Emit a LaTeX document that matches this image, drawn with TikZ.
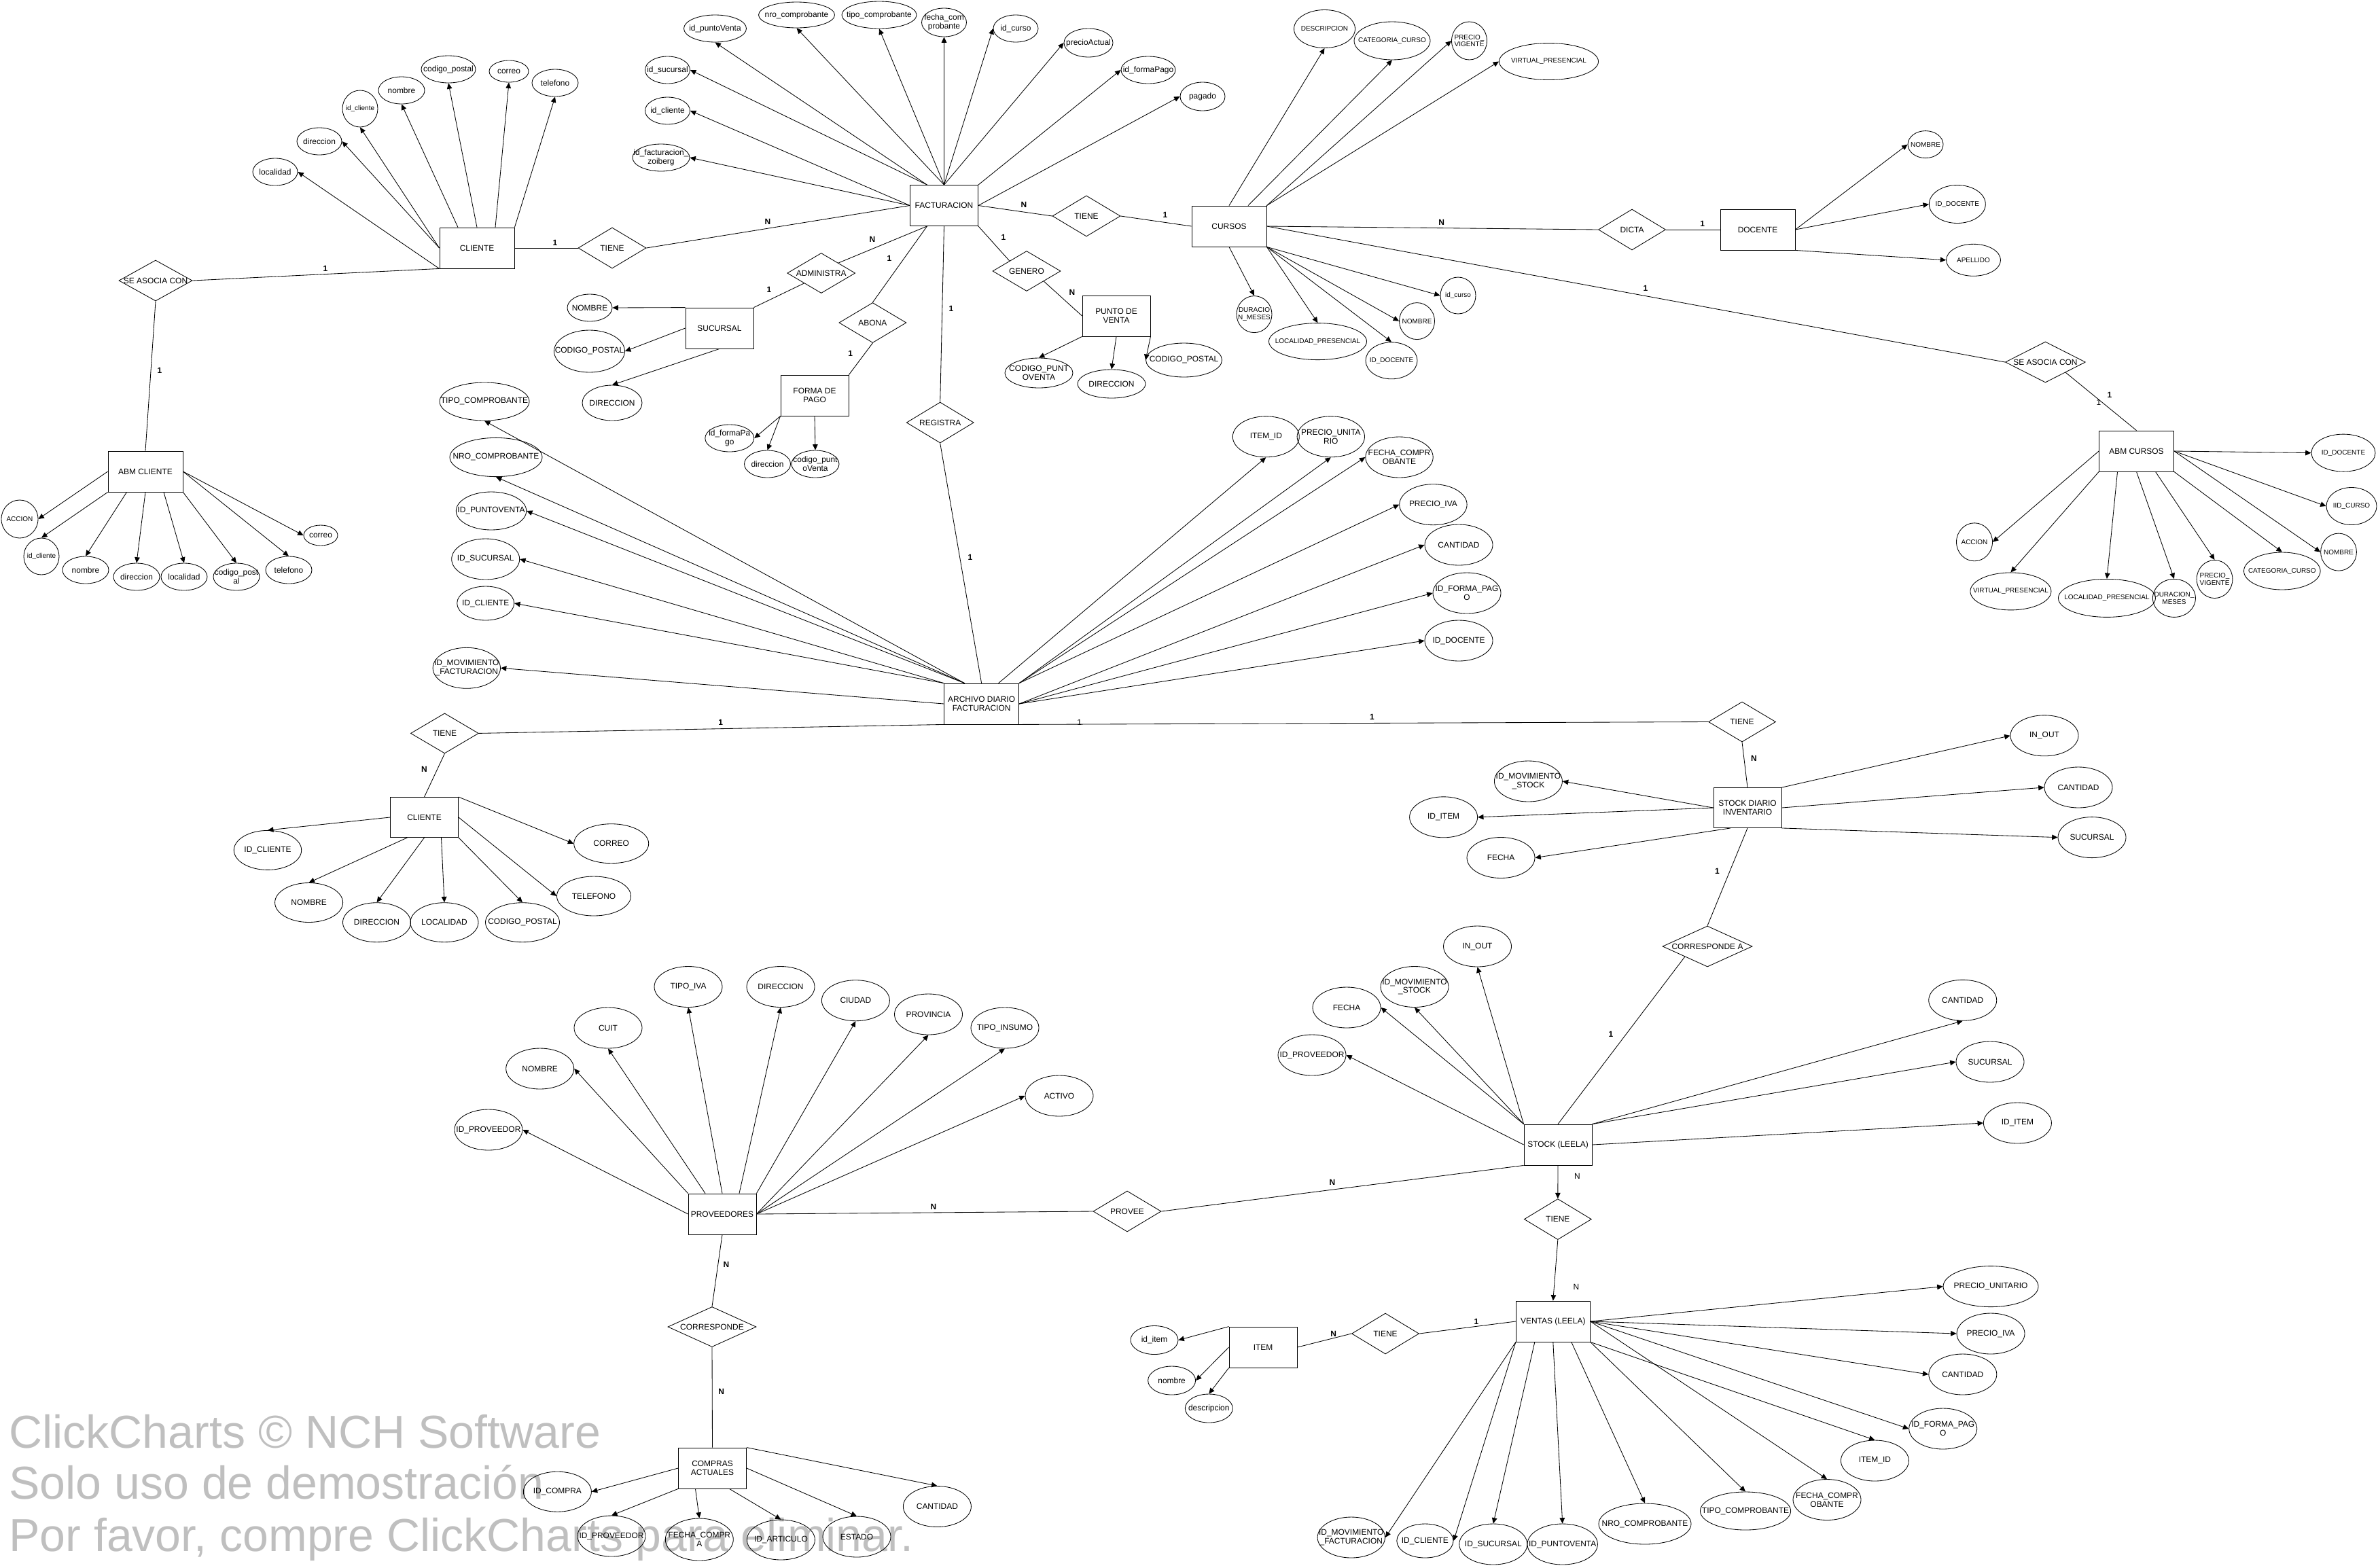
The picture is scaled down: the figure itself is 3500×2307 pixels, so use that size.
\documentclass[tikz,border=0pt]{standalone}
\usepackage{fontspec}
\setmainfont{Liberation Sans}
\usetikzlibrary{shapes.geometric,arrows.meta,calc}
\newcommand\fnorm{\fontsize{8.5}{9.2}\selectfont}
\newcommand\fsml{\fontsize{7.1}{7.6}\selectfont}
\newcommand\fcard{\fontsize{8.5}{9.2}\selectfont\bfseries}
\newcommand\fcardr{\fontsize{8.5}{9.2}\selectfont}
\newcommand\fwm{\fontsize{48.4}{54}\selectfont}
\begin{document}
\begin{tikzpicture}[x=0.25mm,y=-0.25mm,line width=0.6pt,
 lbl/.style={font=\fnorm,align=center,inner sep=0pt},
 lbls/.style={font=\fsml,align=center,inner sep=0pt},
 ent/.style 2 args={draw,rectangle,minimum width=#1*0.25mm,minimum height=#2*0.25mm,inner sep=0.5pt,align=center,font=\fnorm},
 att/.style n args={3}{draw,ellipse,inner sep=0pt,minimum width=#1*0.5mm,minimum height=#2*0.5mm,label={[lbl]center:#3}},
 atts/.style n args={3}{draw,ellipse,inner sep=0pt,minimum width=#1*0.5mm,minimum height=#2*0.5mm,label={[lbls]center:#3}},
 rel/.style n args={3}{draw,diamond,inner sep=0pt,minimum width=#1*0.25mm,minimum height=#2*0.25mm,label={[lbl]center:#3}},
 arr/.style={-{Triangle[length=2.1mm,width=1.9mm]}},
 card/.style={font=\fcard,inner sep=0pt},
 cardr/.style={font=\fcardr,inner sep=0pt},
 wm/.style={font=\fwm,text=black!25,anchor=base west,inner sep=0pt}]
\useasboundingbox (0,0) rectangle (3500,2307);
% watermark
\node[wm] (wm1) at (13,2131) {ClickCharts © NCH Software};
\node[wm] (wm2) at (13,2206) {Solo uso de demostración};
\node[wm] (wm3) at (13,2283) {Por favor, compre ClickCharts para eliminar.};

% ---------- CLIENTE (top) ----------
\node[ent={110}{60}] (cli1) at (702,365) {CLIENTE};
\node[att={33}{20}{localidad}] (aloc1) at (405,253) {};
\node[att={33}{20}{direccion}] (adir1) at (470,208) {};
\node[atts={26}{27}{id\_cliente}] (aidc1) at (530,160) {};
\node[att={34}{20}{nombre}] (anom1) at (591,133) {};
\node[att={40}{20}{codigo\_postal}] (acp1) at (660,102) {};
\node[att={29}{16}{correo}] (acor1) at (749,105) {};
\node[att={34}{20}{telefono}] (atel1) at (817,122) {};
\node[rel={100}{60}{TIENE}] (rtiene1) at (901,365) {};
\node[rel={108}{60}{SE ASOCIA CON}] (rasoc1) at (229,413) {};
\node[ent={110}{60}] (abmcli) at (214,694) {ABM CLIENTE};
\node[atts={27}{28}{ACCION}] (acc1) at (29,764) {};
\node[atts={26}{27}{id\_cliente}] (idc2) at (61,819) {};
\node[att={34}{20}{nombre}] (nom2) at (126,839) {};
\node[att={34}{20}{direccion}] (dir2) at (201,849) {};
\node[att={34}{20}{localidad}] (loc2) at (271,849) {};
\node[att={34}{20}{codigo\_post\\al}] (cp2) at (348,849) {};
\node[att={34}{20}{telefono}] (tel2) at (425,839) {};
\node[att={25}{15}{correo}] (cor2) at (472,788) {};

% ---------- FACTURACION ----------
\node[ent={100}{60}] (fac) at (1389.5,302.5) {FACTURACION};
\node[att={46}{20}{id\_puntoVenta}] (fpv) at (1052.5,42) {};
\node[att={56}{19}{nro\_comprobante}] (fnro) at (1172.5,22) {};
\node[att={55}{20}{tipo\_comprobante}] (ftipo) at (1294,22) {};
\node[att={33}{21}{fecha\_com\\probante}] (ffec) at (1389.5,33) {};
\node[att={33}{20}{id\_curso}] (fcur) at (1495,42) {};
\node[att={36}{21}{precioActual}] (fpre) at (1602,63) {};
\node[att={40}{20}{id\_formaPago}] (ffp) at (1690,103) {};
\node[att={33}{21}{pagado}] (fpag) at (1770,142) {};
\node[att={33}{20}{id\_sucursal}] (fsuc) at (982.5,103) {};
\node[att={33}{20}{id\_cliente}] (fcli) at (982.5,163) {};
\node[att={42}{20}{id\_facturacion\_\\zoiberg}] (fzoi) at (973,232) {};
\node[rel={100}{59}{ADMINISTRA}] (radm) at (1208.7,402) {};
\node[ent={100}{60}] (suc) at (1059,483) {SUCURSAL};
\node[att={33}{20}{NOMBRE}] (snom) at (868,453) {};
\node[att={52}{31}{CODIGO\_POSTAL}] (scp) at (867.5,517) {};
\node[att={44}{26}{DIRECCION}] (sdir) at (901,593) {};
\node[rel={99}{59}{ABONA}] (rabona) at (1284.4,475) {};
\node[ent={100}{60}] (fpago) at (1199,582) {FORMA DE\\PAGO};
\node[att={36}{20}{id\_formaPa\\go}] (fpid) at (1073.8,645) {};
\node[att={34}{20}{direccion}] (fpdir) at (1129.5,683) {};
\node[att={35}{20}{codigo\_punt\\oVenta}] (fpcpv) at (1200,683) {};
\node[rel={99}{60}{REGISTRA}] (rreg) at (1383.7,622) {};
\node[rel={100}{59}{GENERO}] (rgen) at (1511,399) {};
\node[ent={100}{60}] (pv) at (1643,465) {PUNTO DE\\VENTA};
\node[att={50}{22}{CODIGO\_PUNT\\OVENTA}] (pvcpv) at (1529,549) {};
\node[att={50}{21}{DIRECCION}] (pvdir) at (1636,565) {};
\node[att={56}{25}{CODIGO\_POSTAL}] (pvcp) at (1742.5,530) {};
\node[rel={100}{60}{TIENE}] (rtiene2) at (1599,318) {};

% ---------- CURSOS ----------
\node[ent={110}{60}] (cur) at (1809,333) {CURSOS};
\node[atts={45}{28}{DESCRIPCION}] (cdesc) at (1949.5,42.5) {};
\node[atts={56}{28}{CATEGORIA\_CURSO}] (ccat) at (2049,60) {};
\node[atts={26}{28}{PRECIO\_\\VIGENTE}] (cpv) at (2162.5,60) {};
\node[atts={73}{27}{VIRTUAL\_PRESENCIAL}] (cvp) at (2279.5,90.5) {};
\node[atts={26}{27}{DURACIO\\N\_MESES}] (cdur) at (1846,462.6) {};
\node[atts={72}{27}{LOCALIDAD\_PRESENCIAL}] (cloc) at (1939.5,502.6) {};
\node[atts={38}{27}{ID\_DOCENTE}] (ciddoc) at (2048,530.8) {};
\node[atts={26}{27}{NOMBRE}] (cnom) at (2085.5,472.6) {};
\node[atts={26}{27}{id\_curso}] (cidc) at (2146,435) {};
\node[rel={99}{60}{DICTA}] (rdicta) at (2402,338) {};
\node[ent={110}{60}] (doc) at (2587,338) {DOCENTE};
\node[atts={26}{20}{NOMBRE}] (dnom) at (2834,212.6) {};
\node[atts={41.5}{28}{ID\_DOCENTE}] (did) at (2880.8,300.5) {};
\node[atts={40}{23.5}{APELLIDO}] (dape) at (2904.5,382.8) {};
\node[rel={118}{60}{SE ASOCIA CON}] (rasoc2) at (3010.4,533) {};
\node[ent={110}{60}] (abmcur) at (3144.5,664) {ABM CURSOS};
\node[atts={47}{27.5}{ID\_DOCENTE}] (aciddoc) at (3449,666.6) {};
\node[atts={37}{27.5}{IID\_CURSO}] (acidcur) at (3461,745) {};
\node[atts={26.5}{28}{ACCION}] (acacc) at (2906,797.8) {};
\node[atts={59.5}{27.5}{VIRTUAL\_PRESENCIAL}] (acvp) at (2959.4,870.4) {};
\node[atts={71.5}{28}{LOCALIDAD\_PRESENCIAL}] (acloc) at (3100.9,880.4) {};
\node[atts={31.5}{28}{DURACION\_\\MESES}] (acdur) at (3199.9,880.4) {};
\node[atts={26.4}{28}{PRECIO\_\\VIGENTE}] (acpv) at (3259.5,852.5) {};
\node[atts={56.3}{27.5}{CATEGORIA\_CURSO}] (accat) at (3358.8,840.5) {};
\node[atts={26.4}{27.5}{NOMBRE}] (acnom) at (3442,812.6) {};

% ---------- ARCHIVO DIARIO ----------
\node[ent={110}{60}] (arch) at (1444.6,1036) {ARCHIVO DIARIO\\FACTURACION};
\node[att={66}{28}{TIPO\_COMPROBANTE}] (atipo) at (713,591) {};
\node[att={68}{28.6}{NRO\_COMPROBANTE}] (anro) at (730,673) {};
\node[att={51.7}{28}{ID\_PUNTOVENTA}] (apv) at (723,752) {};
\node[att={50}{30}{ID\_SUCURSAL}] (asuc) at (714.7,823) {};
\node[att={42}{25}{ID\_CLIENTE}] (acli) at (714.7,888) {};
\node[att={49.7}{30}{ID\_MOVIMIENTO\\\_FACTURACION}] (amov) at (686.8,983.3) {};
\node[att={49}{30}{ITEM\_ID}] (aitem) at (1863.3,642.8) {};
\node[att={49.7}{30}{PRECIO\_UNITA\\RIO}] (apu) at (1958.8,642.8) {};
\node[att={49.7}{30}{FECHA\_COMPR\\OBANTE}] (afec) at (2059.5,673) {};
\node[att={49.7}{30}{PRECIO\_IVA}] (aiva) at (2109.4,742.7) {};
\node[att={50}{30}{CANTIDAD}] (acant) at (2147,802) {};
\node[att={50}{30}{ID\_FORMA\_PAG\\O}] (afp) at (2159,873) {};
\node[att={50}{30}{ID\_DOCENTE}] (adoc) at (2147,943) {};
\node[rel={100}{59}{TIENE}] (rtiene3) at (654.4,1079.4) {};
\node[ent={100}{59}] (cli2) at (624.5,1203) {CLIENTE};
\node[att={49.7}{29}{ID\_CLIENTE}] (c2id) at (394,1251.4) {};
\node[att={50}{29}{NOMBRE}] (c2nom) at (454.6,1328.5) {};
\node[att={50}{29}{DIRECCION}] (c2dir) at (554.5,1357.7) {};
\node[att={50}{29}{LOCALIDAD}] (c2loc) at (654,1357.7) {};
\node[att={54.5}{29}{CODIGO\_POSTAL}] (c2cp) at (769,1357.7) {};
\node[att={54.5}{29}{TELEFONO}] (c2tel) at (874,1319) {};
\node[att={55}{29}{CORREO}] (c2cor) at (899.7,1241.7) {};
\node[rel={99}{59}{TIENE}] (rtiene4) at (2564,1062.5) {};
\node[ent={100}{59}] (sdi) at (2572,1189) {STOCK DIARIO\\INVENTARIO};
\node[att={50}{30}{ID\_MOVIMIENTO\\\_STOCK}] (sdmov) at (2249.4,1150) {};
\node[att={50}{30}{ID\_ITEM}] (sditem) at (2124.6,1202.8) {};
\node[att={50}{30}{FECHA}] (sdfec) at (2209,1262.5) {};
\node[att={50}{30}{IN\_OUT}] (sdio) at (3009,1082.8) {};
\node[att={50}{30}{CANTIDAD}] (sdcant) at (3059,1159) {};
\node[att={50}{30}{SUCURSAL}] (sdsuc) at (3079,1232.6) {};
\node[rel={132}{60}{CORRESPONDE A}] (rcorra) at (2513,1393) {};

% ---------- STOCK (LEELA) ----------
\node[ent={100}{60}] (stl) at (2293,1685) {STOCK (LEELA)};
\node[att={50}{30}{ID\_PROVEEDOR}] (slprov) at (1931,1553) {};
\node[att={50}{30}{FECHA}] (slfec) at (1982,1483) {};
\node[att={50}{30}{ID\_MOVIMIENTO\\\_STOCK}] (slmov) at (2082,1452.5) {};
\node[att={50}{30}{IN\_OUT}] (slio) at (2174.5,1393) {};
\node[att={50}{30}{CANTIDAD}] (slcant) at (2888.7,1472.3) {};
\node[att={50}{30}{SUCURSAL}] (slsuc) at (2929,1563) {};
\node[att={50}{30}{ID\_ITEM}] (slitem) at (2969.4,1653) {};
\node[rel={99}{60}{TIENE}] (rtiene5) at (2292.8,1794.6) {};
\node[rel={100}{60}{PROVEE}] (rprovee) at (1659,1783) {};
\node[ent={109}{60}] (ven) at (2285.8,1945) {VENTAS (LEELA)};
\node[rel={99}{60}{TIENE}] (rtiene6) at (2039,1963) {};
\node[ent={100}{60}] (item) at (1859,1983) {ITEM};
\node[att={35}{21}{id\_item}] (itid) at (1699,1972.5) {};
\node[att={35}{21}{nombre}] (itnom) at (1724.6,2032) {};
\node[att={35}{21}{descripcion}] (itdesc) at (1779.3,2073) {};
\node[att={49.7}{30}{ID\_MOVIMIENTO\\\_FACTURACION}] (vmov) at (1988.8,2263) {};
\node[att={41.6}{25}{ID\_CLIENTE}] (vcli) at (2097.4,2268) {};
\node[att={50}{30}{ID\_SUCURSAL}] (vsuc) at (2197.8,2273) {};
\node[att={51.7}{30}{ID\_PUNTOVENTA}] (vpv) at (2299.7,2273) {};
\node[att={68}{30}{NRO\_COMPROBANTE}] (vnro) at (2421,2243) {};
\node[att={66.6}{28}{TIPO\_COMPROBANTE}] (vtipo) at (2569,2224) {};
\node[att={50}{30}{FECHA\_COMPR\\OBANTE}] (vfec) at (2689,2207.5) {};
\node[att={50}{30}{ITEM\_ID}] (vitem) at (2759.4,2150) {};
\node[att={50}{30}{ID\_FORMA\_PAG\\O}] (vfp) at (2859.7,2103) {};
\node[att={50}{30}{CANTIDAD}] (vcant) at (2888.8,2023) {};
\node[att={50}{30}{PRECIO\_IVA}] (viva) at (2930,1963) {};
\node[att={70}{30}{PRECIO\_UNITARIO}] (vpu) at (2930,1893.6) {};

% ---------- PROVEEDORES ----------
\node[ent={100}{60}] (prov) at (1063,1787) {PROVEEDORES};
\node[att={50}{30}{ID\_PROVEEDOR}] (pid) at (718.9,1663) {};
\node[att={50}{30}{NOMBRE}] (pnom) at (794.7,1573) {};
\node[att={50}{30}{CUIT}] (pcuit) at (895,1513) {};
\node[att={50}{30}{TIPO\_IVA}] (piva) at (1013,1452.5) {};
\node[att={50}{30}{DIRECCION}] (pdir) at (1149,1452.5) {};
\node[att={50}{30}{CIUDAD}] (pciu) at (1259.4,1472.7) {};
\node[att={50}{30}{PROVINCIA}] (pprov) at (1366.5,1493) {};
\node[att={50}{30}{TIPO\_INSUMO}] (pins) at (1479,1513) {};
\node[att={50}{30}{ACTIVO}] (pact) at (1559,1613) {};
\node[rel={130}{59}{CORRESPONDE}] (rcorr) at (1048,1953) {};
\node[ent={100}{60}] (comp) at (1048.5,2161) {COMPRAS\\ACTUALES};
\node[att={50}{29.5}{ID\_COMPRA}] (cpid) at (820.4,2195.7) {};
\node[att={50}{30}{ID\_PROVEEDOR}] (cpprov) at (900,2261) {};
\node[att={50}{31}{FECHA\_COMPR\\A}] (cpfec) at (1029.3,2266) {};
\node[att={50}{29.5}{ID\_ARTICULO}] (cpart) at (1149.4,2266.5) {};
\node[att={50}{30}{ESTADO}] (cpest) at (1261,2262) {};
\node[att={50}{30}{CANTIDAD}] (cpcant) at (1379.4,2217.5) {};

% ================= CONNECTORS =================
% CLIENTE top
\draw[arr] (cli1.south west) -- (aloc1.east);
\draw[arr] (cli1.west) -- (adir1.east);
\draw[arr] (cli1.west) -- (aidc1.south);
\draw[arr] ($(cli1.north)+(-28,0)$) -- (anom1.south);
\draw[arr] (cli1.north) -- (acp1.south);
\draw[arr] ($(cli1.north)+(27,0)$) -- (acor1.south);
\draw[arr] (cli1.north east) -- (atel1.south);
\draw (cli1.east) -- (rtiene1.west);
\draw (cli1.south west) -- (rasoc1.east);
\draw (rasoc1.south) -- (abmcli.north);
\draw[arr] (abmcli.west) -- (acc1.east);
\draw[arr] (abmcli.south west) -- (idc2.north);
\draw[arr] ($(abmcli.south)+(-27.5,0)$) -- (nom2.north);
\draw[arr] (abmcli.south) -- (dir2.north);
\draw[arr] ($(abmcli.south)+(27,0)$) -- (loc2.north);
\draw[arr] (abmcli.south east) -- (cp2.north);
\draw[arr] (abmcli.east) -- (tel2.north);
\draw[arr] (abmcli.east) -- (cor2.west);
% FACTURACION
\draw[arr] (fac.west) -- (fzoi.east);
\draw[arr] (fac.west) -- (fcli.east);
\draw[arr] ($(fac.north)+(-25,0)$) -- (fsuc.east);
\draw[arr] ($(fac.north)+(-25,0)$) -- (fpv.south);
\draw[arr] (fac.north) -- (fnro.south);
\draw[arr] (fac.north) -- (ftipo.south);
\draw[arr] (fac.north) -- (ffec.south);
\draw[arr] (fac.north) -- (fcur.west);
\draw[arr] (fac.north) -- (fpre.west);
\draw[arr] (fac.north east) -- (ffp.west);
\draw[arr] (fac.east) -- (fpag.west);
\draw (fac.west) -- (rtiene1.east);
\draw ($(fac.south)+(-25,0)$) -- (radm.north east);
\draw (radm.south west) -- (suc.north east);
\draw ($(fac.south)+(-25,0)$) -- (rabona.north);
\draw (rabona.south) -- (fpago.north east);
\draw (fac.south) -- (rreg.north);
\draw (rreg.south) -- (arch.north);
\draw (fac.south east) -- (rgen.north west);
\draw (rgen.south east) -- (pv.west);
\draw (fac.east) -- (rtiene2.west);
\draw (rtiene2.east) -- (cur.west);
\draw[arr] (suc.north west) -- (snom.east);
\draw[arr] (suc.west) -- (scp.east);
\draw[arr] (suc.south) -- (sdir.north);
\draw[arr] (fpago.south west) -- (fpid.east);
\draw[arr] (fpago.south west) -- (fpdir.north);
\draw[arr] (fpago.south) -- (fpcpv.north);
\draw[arr] (pv.south west) -- (pvcpv.north);
\draw[arr] (pv.south) -- (pvdir.north);
\draw[arr] (pv.south east) -- (pvcp.west);
% CURSOS
\draw[arr] (cur.north) -- (cdesc.south);
\draw[arr] ($(cur.north)+(28,0)$) -- (ccat.south);
\draw[arr] (cur.north east) -- (cpv.west);
\draw[arr] (cur.north east) -- (cvp.west);
\draw[arr] (cur.south) -- (cdur.north);
\draw[arr] (cur.south east) -- (cloc.north);
\draw[arr] (cur.south east) -- (ciddoc.north);
\draw[arr] (cur.south east) -- (cnom.west);
\draw[arr] (cur.south east) -- (cidc.west);
\draw (cur.east) -- (rdicta.west);
\draw (rdicta.east) -- (doc.west);
\draw (cur.east) -- (rasoc2.west);
\draw[arr] (doc.east) -- (dnom.west);
\draw[arr] (doc.east) -- (did.west);
\draw[arr] (doc.south east) -- (dape.west);
\draw (rasoc2.south east) -- (abmcur.north);
\draw[arr] (abmcur.east) -- (aciddoc.west);
\draw[arr] (abmcur.east) -- (acidcur.west);
\draw[arr] (abmcur.west) -- (acacc.east);
\draw[arr] (abmcur.south west) -- (acvp.north);
\draw[arr] ($(abmcur.south)+(-28,0)$) -- (acloc.north);
\draw[arr] (abmcur.south) -- (acdur.north);
\draw[arr] ($(abmcur.south)+(28,0)$) -- (acpv.north);
\draw[arr] (abmcur.south east) -- (accat.north);
\draw[arr] (abmcur.east) -- (acnom.west);
% ARCHIVO
\draw[arr] ($(arch.north)+(-25,0)$) -- (atipo.south);
\draw[arr] ($(arch.north)+(-25,0)$) -- (anro.south);
\draw[arr] ($(arch.north)+(-25,0)$) -- (apv.east);
\draw[arr] (arch.north west) -- (asuc.east);
\draw[arr] (arch.north west) -- (acli.east);
\draw[arr] (arch.west) -- (amov.east);
\draw[arr] ($(arch.north)+(25,0)$) -- (aitem.south);
\draw[arr] (arch.north east) -- (apu.south);
\draw[arr] (arch.north east) -- (afec.west);
\draw[arr] (arch.north east) -- (aiva.west);
\draw[arr] (arch.east) -- (acant.west);
\draw[arr] (arch.east) -- (afp.west);
\draw[arr] (arch.east) -- (adoc.west);
\draw (arch.south west) -- (rtiene3.east);
\draw (rtiene3.south) -- (cli2.north);
\draw (arch.south east) -- (rtiene4.west);
\draw (rtiene4.south) -- (sdi.north);
\draw[arr] (cli2.west) -- (c2id.north);
\draw[arr] ($(cli2.south)+(-25,0)$) -- (c2nom.north);
\draw[arr] (cli2.south) -- (c2dir.north);
\draw[arr] ($(cli2.south)+(25,0)$) -- (c2loc.north);
\draw[arr] (cli2.south east) -- (c2cp.north);
\draw[arr] (cli2.east) -- (c2tel.west);
\draw[arr] (cli2.north east) -- (c2cor.west);
\draw[arr] (sdi.west) -- (sdmov.east);
\draw[arr] (sdi.west) -- (sditem.east);
\draw[arr] ($(sdi.south)+(-25,0)$) -- (sdfec.east);
\draw[arr] (sdi.north east) -- (sdio.west);
\draw[arr] (sdi.east) -- (sdcant.west);
\draw[arr] (sdi.south east) -- (sdsuc.west);
\draw (sdi.south) -- (rcorra.north);
\draw (rcorra.south west) -- (stl.north);
% STOCK (LEELA)
\draw[arr] (stl.west) -- (slprov.east);
\draw[arr] (stl.north west) -- (slfec.east);
\draw[arr] (stl.north west) -- (slmov.south);
\draw[arr] (stl.north west) -- (slio.south);
\draw[arr] (stl.north east) -- (slcant.south);
\draw[arr] (stl.north east) -- (slsuc.west);
\draw[arr] (stl.east) -- (slitem.west);
\draw (stl.south west) -- (rprovee.east);
\draw (rprovee.west) -- (prov.east);
\draw[arr] (stl.south) -- (rtiene5.north);
\draw[arr] (rtiene5.south) -- (ven.north);
\draw (ven.west) -- (rtiene6.east);
\draw (rtiene6.west) -- (item.east);
\draw[arr] (item.north west) -- (itid.east);
\draw[arr] (item.west) -- (itnom.east);
\draw[arr] (item.south west) -- (itdesc.north);
\draw[arr] (ven.south west) -- (vmov.east);
\draw[arr] (ven.south west) -- (vcli.east);
\draw[arr] ($(ven.south)+(-27,0)$) -- (vsuc.north);
\draw[arr] (ven.south) -- (vpv.north);
\draw[arr] ($(ven.south)+(27,0)$) -- (vnro.north);
\draw[arr] (ven.south east) -- (vtipo.north);
\draw[arr] (ven.east) -- (vfec.north);
\draw[arr] (ven.south east) -- (vitem.north);
\draw[arr] (ven.east) -- (vfp.west);
\draw[arr] (ven.east) -- (vcant.west);
\draw[arr] (ven.east) -- (viva.west);
\draw[arr] (ven.east) -- (vpu.west);
% PROVEEDORES
\draw[arr] (prov.west) -- (pid.east);
\draw[arr] (prov.north west) -- (pnom.east);
\draw[arr] ($(prov.north)+(-25,0)$) -- (pcuit.south);
\draw[arr] (prov.north) -- (piva.south);
\draw[arr] ($(prov.north)+(25,0)$) -- (pdir.south);
\draw[arr] (prov.north east) -- (pciu.south);
\draw[arr] (prov.east) -- (pprov.south);
\draw[arr] (prov.east) -- (pins.south);
\draw[arr] (prov.east) -- (pact.west);
\draw (prov.south) -- (rcorr.north);
\draw (rcorr.south) -- (comp.north);
\draw[arr] (comp.west) -- (cpid.east);
\draw[arr] (comp.south west) -- (cpprov.north);
\draw[arr] ($(comp.south)+(-25,0)$) -- (cpfec.north);
\draw[arr] ($(comp.south)+(25,0)$) -- (cpart.north);
\draw[arr] (comp.east) -- (cpest.north);
\draw[arr] (comp.north east) -- (cpcant.north);

% ================= CARDINALITIES =================
\node[card] (k1) at (817,357) {1};
\node[card] (k2) at (479,395) {1};
\node[card] (k3) at (235,545) {1};
\node[card] (k4) at (1130,326) {N};
\node[card] (k5) at (1284,352) {N};
\node[card] (k6) at (1132,426) {1};
\node[card] (k7) at (1309,380.5) {1};
\node[card] (k8) at (1251.7,520) {1};
\node[card] (k9) at (1400,454) {1};
\node[card] (k10) at (1428,820.7) {1};
\node[card] (k11) at (1477,349) {1};
\node[card] (k12) at (1578,430) {N};
\node[card] (k13) at (1507,301.5) {N};
\node[card] (k14) at (1715,316) {1};
\node[card] (k15) at (2121.7,327) {N};
\node[card] (k16) at (2505.7,329) {1};
\node[card] (k17) at (2422,424) {1};
\node[card] (k18) at (3105,581) {1};
\node[cardr] (k19) at (3089,592) {1};
\node[card] (k20) at (1060.6,1063.4) {1};
\node[card] (k21) at (624.5,1132) {N};
\node[card] (k22) at (2019.5,1055.5) {1};
\node[cardr] (k23) at (1588.6,1063.4) {1};
\node[card] (k24) at (2581.5,1116.7) {N};
\node[card] (k25) at (2527.5,1282) {1};
\node[card] (k26) at (2371,1522.6) {1};
\node[card] (k27) at (1961,1740) {N};
\node[card] (k28) at (1374,1776) {N};
\node[cardr] (k29) at (2321.5,1731) {N};
\node[cardr] (k30) at (2320,1894) {N};
\node[card] (k31) at (2173,1945) {1};
\node[card] (k32) at (1962.7,1963.8) {N};
\node[card] (k33) at (1069,1861) {N};
\node[card] (k34) at (1061.7,2048) {N};
\end{tikzpicture}
\end{document}
